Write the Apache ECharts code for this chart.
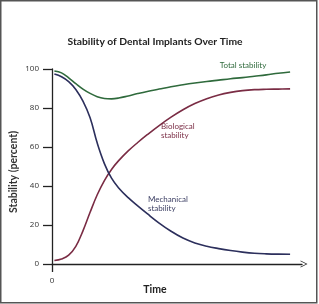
<!DOCTYPE html>
<html>
<head>
<meta charset="utf-8">
<script src="https://cdn.jsdelivr.net/npm/echarts@6/dist/echarts.min.js"></script>
<style>
html,body{margin:0;padding:0;background:#fff;}
#c{width:319px;height:304px;}
</style>
</head>
<body>
<div id="c"></div>
<script>
const times = [1, 4, 7, 10, 13, 16, 19, 22, 25, 28, 32, 36, 40, 45, 50, 55, 60, 65, 70, 75, 80, 85, 90, 95, 100];
const totalStability = [99, 98, 95.5, 92.5, 89.7, 87.5, 85.8, 84.9, 84.7, 85.1, 86.2, 87.4, 88.5, 89.7, 90.9, 91.9, 92.8, 93.6, 94.3, 95, 95.6, 96.3, 97, 97.8, 98.5];
const mechanicalStability = [97.4, 96, 93.5, 89.5, 83.5, 75, 62, 51.5, 44, 39, 34, 29.8, 25.8, 21, 16.8, 13.3, 10.8, 9.1, 7.9, 6.9, 6.1, 5.5, 5.2, 5.05, 5];
const biologicalStability = [1.8, 2.6, 4.5, 9, 17, 26.5, 35.5, 42.8, 48.5, 53, 58, 62.3, 66.3, 71, 75.3, 79.1, 82.3, 84.8, 86.7, 88, 88.9, 89.4, 89.6, 89.7, 89.8];
const yTicks = [0, 20, 40, 60, 80, 100];

const pairs = (vals) => times.map((t, i) => [t, vals[i]]);

const chart = echarts.init(document.getElementById('c'), null, {renderer: 'canvas'});
const font = '"Open Sans", "Noto Sans", sans-serif';
chart.setOption({
  animation: false,
  backgroundColor: '#fff',
  grid: {left: 52, right: 17, top: 69, bottom: 40, containLabel: false},
  xAxis: {
    type: 'value', min: 0, max: 105,
    axisLine: {show: true, lineStyle: {color: '#222', width: 1.3},
      symbol: ['none', 'path://M0,10 L5,0 L10,10 L8.8,10 L5,2.2 L1.2,10 Z'],
      symbolSize: [12, 7], symbolOffset: [0, 2]},
    axisTick: {show: true, customValues: [0], length: 8, inside: false, lineStyle: {color: '#222', width: 1.3}},
    axisLabel: {show: true, customValues: [0], margin: 13, fontSize: 8, color: '#333', fontFamily: font},
    splitLine: {show: false}
  },
  yAxis: {
    type: 'value', min: 0, max: 100, interval: 20,
    axisLine: {show: true, lineStyle: {color: '#222', width: 1.3}},
    axisTick: {show: true, length: 9, lineStyle: {color: '#222', width: 1.3}},
    axisLabel: {margin: 13, fontSize: 8, color: '#333', fontFamily: font,
      formatter: (v) => yTicks.includes(v) ? String(v) : ''},
    splitLine: {show: false}
  },
  series: [
    {name: 'Total stability', type: 'line', data: pairs(totalStability), smooth: 0.4, showSymbol: false,
     lineStyle: {color: '#2f6a3c', width: 1.6}},
    {name: 'Biological stability', type: 'line', data: pairs(biologicalStability), smooth: 0.4, showSymbol: false,
     lineStyle: {color: '#7a2c44', width: 1.6}},
    {name: 'Mechanical stability', type: 'line', data: pairs(mechanicalStability), smooth: 0.4, showSymbol: false,
     lineStyle: {color: '#2c2f5c', width: 1.6}}
  ],
  graphic: [
    {type: 'rect', shape: {x: 0.75, y: 0.75, width: 316, height: 302}, style: {fill: 'none', stroke: '#555', lineWidth: 1.5}, silent: true},
    {type: 'text', x: 155, y: 42, style: {text: 'Stability of Dental Implants Over Time', font: 'bold 10.3px Lato, ' + font, fill: '#222', align: 'center', verticalAlign: 'middle'}},
    {type: 'text', x: 14, y: 172, rotation: Math.PI / 2, style: {text: 'Stability (percent)', font: 'bold 10.5px Lato, ' + font, fill: '#333', align: 'center', verticalAlign: 'middle'}},
    {type: 'text', x: 155, y: 290, style: {text: 'Time', font: 'bold 10.5px Lato, ' + font, fill: '#222', align: 'center', verticalAlign: 'middle'}},
    {type: 'text', x: 243, y: 65, style: {text: 'Total stability', font: '8px Lato, ' + font, fill: '#2f6a3c', align: 'center', verticalAlign: 'middle'}},
    {type: 'text', x: 161, y: 131, style: {text: 'Biological\nstability', font: '8px Lato, ' + font, fill: '#7a2c44', align: 'left', verticalAlign: 'middle', lineHeight: 9}},
    {type: 'text', x: 148, y: 204, style: {text: 'Mechanical\nstability', font: '8px Lato, ' + font, fill: '#3a3d62', align: 'left', verticalAlign: 'middle', lineHeight: 9}}
  ]
});
</script>
</body>
</html>
